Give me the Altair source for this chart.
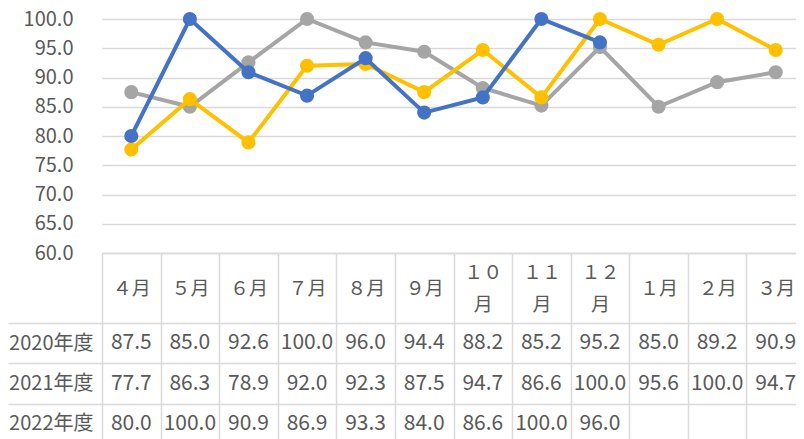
import altair as alt
import pandas as pd

months = ["４月", "５月", "６月", "７月", "８月", "９月", "１０月", "１１月", "１２月", "１月", "２月", "３月"]
series = ["2020年度", "2021年度", "2022年度"]
v2020 = [87.5, 85.0, 92.6, 100.0, 96.0, 94.4, 88.2, 85.2, 95.2, 85.0, 89.2, 90.9]
v2021 = [77.7, 86.3, 78.9, 92.0, 92.3, 87.5, 94.7, 86.6, 100.0, 95.6, 100.0, 94.7]
v2022 = [80.0, 100.0, 90.9, 86.9, 93.3, 84.0, 86.6, 100.0, 96.0]
colors = ["#A5A5A5", "#FFC000", "#4472C4"]
y_ticks = [60, 65, 70, 75, 80, 85, 90, 95, 100]

rows = []
for s, vals in zip(series, [v2020, v2021, v2022]):
    for m, v in zip(months, vals):
        rows.append({"series": s, "month": m, "value": v})
df = pd.DataFrame(rows)

FONT = "Noto Sans CJK JP"
GRID = "#D9D9D9"
TXT = "#595959"
W = 694          # visible plot width (svg ends at the window edge)
H = 420
PLOT_H = 234     # line-chart part
HEADER_H = 70
TABLE_TOP = PLOT_H + HEADER_H
TABLE_BOTTOM = TABLE_TOP + 121
COLS_W = 703

x_enc = alt.X(
    "month:N", sort=months, bandPosition=0.5,
    scale=alt.Scale(type="band", domain=months, range=[0, COLS_W], paddingInner=0, paddingOuter=0),
    axis=alt.Axis(
        title=None, orient="bottom", offset=PLOT_H - H, tickBand="extent",
        tickSize=HEADER_H + 121, tickColor=GRID, tickWidth=1.5,
        domainColor=GRID, domainWidth=1.5,
        labelAngle=0, labelFont=FONT, labelFontSize=19, labelColor=TXT,
        labelPadding={"condition": {"test": "length(datum.label) > 2", "value": -172},
                      "value": -156},
        labelBaseline="middle", labelLineHeight=32, labelOverlap=False,
        labelExpr="length(datum.label) > 2 ? [substring(datum.label, 0, 2), substring(datum.label, 2)] : datum.label",
    ),
)

y_val = alt.Y(
    "value:Q",
    scale=alt.Scale(domain=[60, 100], range=[PLOT_H, 0], nice=False, zero=False),
    axis=alt.Axis(
        title=None, orient="left", values=y_ticks, format=".1f", grid=True,
        gridColor=GRID, gridWidth=1.5, domain=False, ticks=False, tickSize=0,
        labelPadding=29, labelFont=FONT, labelFontSize=20, labelColor=TXT,
    ),
)

layers = []
for s, c in zip(series, colors):
    base = alt.Chart(df).transform_filter(alt.datum.series == s).encode(x=x_enc, y=y_val)
    layers.append(base.mark_line(color=c, strokeWidth=4))
    layers.append(base.mark_circle(color=c, size=200, opacity=1))
lines = alt.layer(*layers)

tbl = alt.Chart(df).mark_text(font=FONT, fontSize=21, color=TXT).encode(
    x=x_enc,
    y=alt.Y(
        "series:N", sort=series,
        scale=alt.Scale(type="band", domain=series, range=[TABLE_TOP, TABLE_BOTTOM],
                        paddingInner=0, paddingOuter=0),
        axis=alt.Axis(title=None, orient="left", tickBand="extent", tickSize=94,
                      tickColor=GRID, tickWidth=1.5, domain=False, grid=True,
                      gridColor=GRID, gridWidth=1.5, labelPadding=-85,
                      labelFont=FONT, labelFontSize=20, labelColor=TXT),
    ),
    text=alt.Text("value:Q", format=".1f"),
)

chart = alt.layer(lines, tbl).resolve_scale(y="independent").properties(
    width=W, height=H,
    autosize=alt.AutoSizeParams(type="none"),
    padding={"left": 94, "top": 11, "right": 0, "bottom": 0},
).configure_view(stroke=None)

chart.save("out.html", embed_options={"renderer": "svg", "actions": False})
